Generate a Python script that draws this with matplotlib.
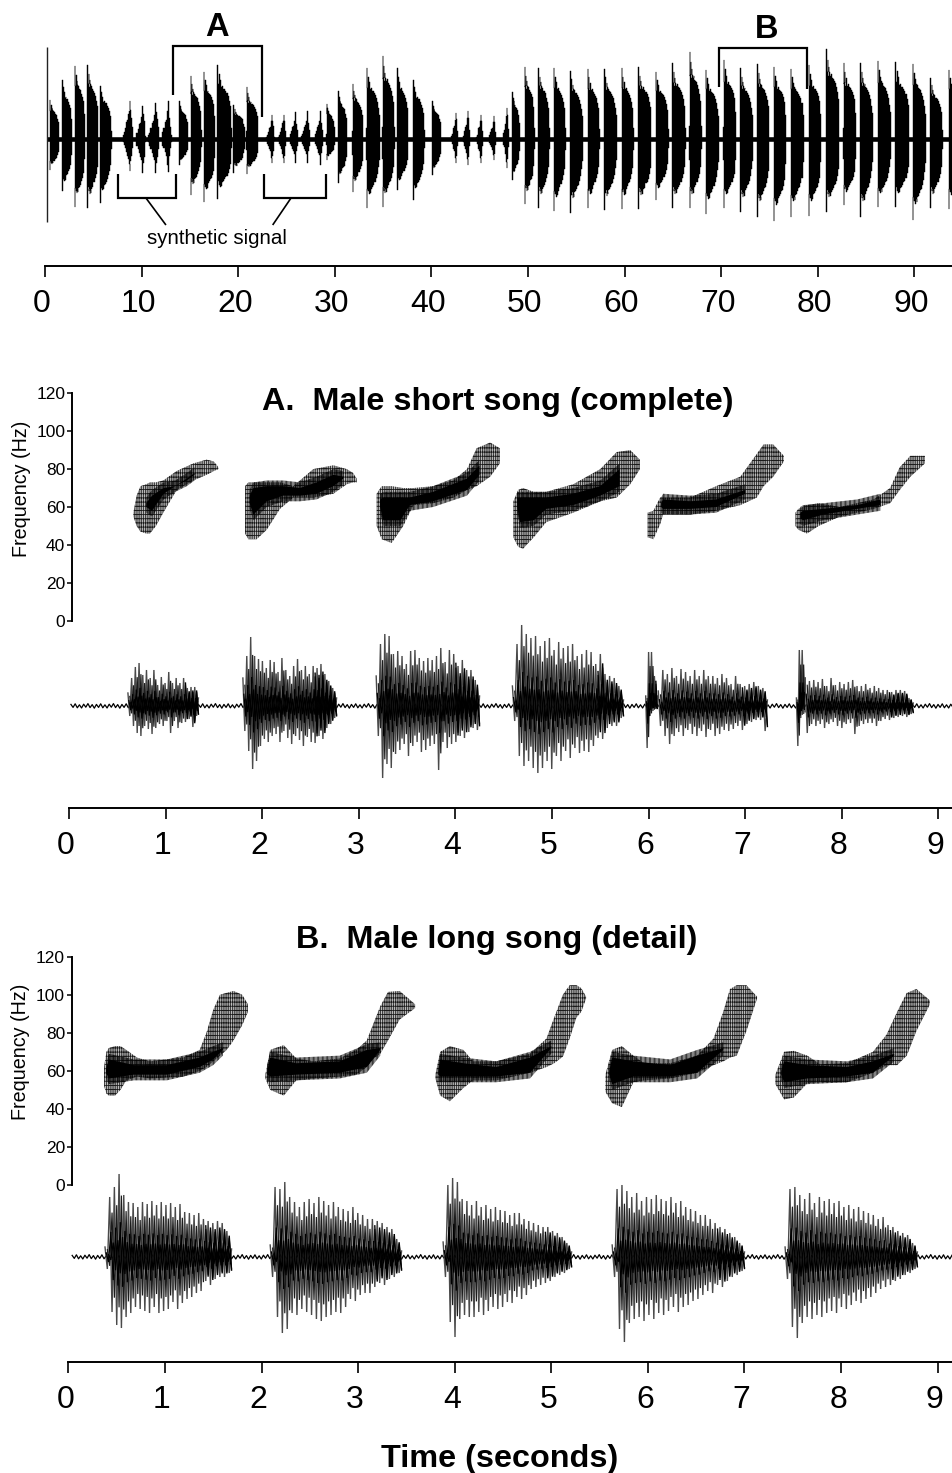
import numpy as np
import matplotlib
matplotlib.use("Agg")
import matplotlib.pyplot as plt
from matplotlib.transforms import ScaledTranslation

plt.rcParams['font.family'] = ['Liberation Sans', 'DejaVu Sans']
plt.rcParams['hatch.linewidth'] = 0.55

W, H = 953, 1473

# ---------- overview record: burst onset / end (s), positive and negative peak ----------
ov_on = [0.52,1.79,3.10,4.38,5.69, 8.10,9.41,10.69,12.07, 13.90,15.07,16.45,17.83,19.48,20.86,
         22.93,24.14,25.34,26.55,27.93, 29.14,30.34,31.83,33.28,34.93,36.45,38.10,40.07,
         42.07,43.28,44.66,45.97,47.41, 48.38,49.66,51.07,52.66,54.34,56.17,57.86,59.69,61.41,
         63.21,64.93,66.72,68.38,70.24,71.97,73.72,75.45,77.21,79.07,80.86,82.66,84.41,86.21,
         88.03,89.83,91.62,93.55]
ov_end = [1.48,2.76,4.14,5.52,6.90, 9.14,10.45,11.83,13.10, 14.83,16.21,17.59,19.31,20.69,22.07,
          23.79,25.00,26.21,27.48,28.79, 30.00,31.28,32.93,34.66,36.20,37.60,39.30,41.03,
          42.76,44.03,45.34,46.72,48.03, 49.14,50.69,52.24,53.90,55.69,57.41,59.21,60.93,62.76,
          64.55,66.31,67.97,69.76,71.55,73.28,75.00,76.72,78.59,80.34,82.24,83.97,85.69,87.59,
          89.48,91.21,92.93,94.90]
ov_up = [39,59,73,74,53, 38,33,36,38, 38,63,67,74,34,52, 24,24,27,28,28, 35,48,55,71,83,71,59,38,
         26,28,24,23,31, 47,72,71,71,68,70,70,71,72,67,76,87,69,79,71,75,72,70,74,90,76,76,78,77,75,61,69]
ov_low = [31,52,68,69,64, 32,34,34,33, 26,56,63,60,34,35, 24,24,24,24,26, 21,44,53,69,68,51,61,36,
          24,26,24,21,29, 41,65,69,72,74,69,71,70,70,61,69,69,75,69,73,78,82,78,77,73,66,78,68,68,81,69,70]
ov_kind = list("ddddd" "ssss" "dddddd" "sssss" "dddddddd" "sssss" "ddddddddddddddddddddddddddd")

# envelope outlines of one burst as read from the record (fraction of burst, fraction of peak)
decay_pos = [0,.02,.04,.06,.10,.14,.18,.22,.27,.32,.38,.45,.52,.60,.68,.76,.84,.92,.97,1]
decay_up  = [.15,1,1,.72,.74,.88,.70,.80,.74,.70,.72,.68,.67,.65,.62,.58,.52,.44,.34,.15]
decay_low = [.30,1,1,.72,.70,.76,.72,.80,.74,.78,.72,.70,.67,.63,.62,.57,.50,.41,.30,.15]
rise_pos = [0,.12,.26,.36,.46,.54,.60,.70,.74,.82,.90,1]
rise_up  = [.10,.18,.30,.44,.50,.66,.74,1,.76,.56,.32,.10]
rise_low = [.10,.20,.28,.40,.52,.62,.78,1,.70,.52,.28,.10]

ov_first_spike = [92, 83]   # onset click, up / down

# ---------- panel A oscillogram ----------
a_on  = [0.61,1.80,3.18,4.59,5.97,6.10,7.53,7.62]
a_end = [1.34,2.77,4.25,5.74,6.09,7.23,7.62,8.74]
a_up = [
 [13,28,39,43,31,36,28,36,21,29,23,34,23,28,23,28,18,19,19,8],
 [28,50,69,50,47,45,38,46,44,34,48,36,30,40,47,36,40,32,40,38,42,32,25,18,8],
 [30,62,72,70,52,55,50,42,55,56,48,45,48,46,50,58,44,56,52,40,46,36,36,26,10],
 [20,62,81,72,68,70,60,65,68,56,64,58,60,62,50,52,56,54,42,52,32,30,28,20,6],
 [10,54,54,30,10],
 [15,36,32,38,30,37,34,30,36,30,36,30,30,28,32,28,22,30,22,20,22,24,20,18,6],
 [8,56,56,28],
 [28,25,26,24,27,20,28,21,24,22,24,26,20,20,22,18,20,18,16,16,14,16,16,15,8,3]]
a_low = [
 [10,20,27,30,20,23,28,22,18,20,15,27,15,22,17,16,13,21,10,6],
 [25,45,63,55,40,33,36,30,28,36,25,32,38,30,34,40,31,36,37,30,33,22,18,12,6],
 [30,72,58,62,48,44,38,50,40,36,46,44,40,38,64,36,42,38,36,30,32,26,22,24,8],
 [15,50,60,55,62,67,62,55,63,50,55,45,52,42,47,45,46,40,32,33,22,20,20,12,5],
 [42,10,5,3,4],
 [20,30,38,30,26,30,24,28,30,25,31,24,30,28,24,25,23,20,24,18,16,14,14,25,6],
 [40,12,8,28],
 [27,18,20,18,22,18,16,20,22,18,17,28,20,18,17,17,20,15,13,14,12,11,10,11,8,3]]

# ---------- panel B oscillogram ----------
b_on  = [0.38,2.09,3.88,5.63,7.42]
b_end = [1.69,3.45,5.21,7.00,8.79]
b_up = [
 [10,60,70,83,62,55,54,50,55,53,56,52,55,52,54,50,53,45,44,42,44,38,36,34,36,34,26,8],
 [12,70,68,75,60,55,50,55,58,54,60,56,52,55,50,48,46,50,44,42,38,38,36,34,30,28,18,6],
 [15,72,79,75,58,56,52,56,50,52,48,50,47,46,42,44,44,38,36,34,32,30,30,26,24,20,14,5],
 [12,68,72,66,60,64,56,60,58,62,58,56,60,54,56,50,48,46,42,42,38,34,30,28,24,20,14,5],
 [10,68,70,62,58,64,54,60,56,58,54,56,50,52,48,50,46,44,42,38,40,32,30,26,24,22,14,5]]
b_low = [
 [12,55,68,71,60,56,50,52,54,56,50,56,54,52,45,52,46,42,40,36,34,24,28,22,20,20,16,5],
 [20,60,76,72,56,58,52,55,58,62,64,60,58,55,56,50,42,44,38,36,36,30,26,28,22,20,16,6],
 [20,65,80,62,58,60,60,55,58,54,50,52,50,45,46,40,42,38,32,30,28,26,24,20,18,16,12,5],
 [20,72,85,66,62,60,64,58,62,56,58,54,50,55,50,48,44,42,38,34,36,28,30,24,20,18,14,5],
 [22,70,81,66,60,62,58,60,56,54,56,50,52,48,44,46,42,40,36,32,30,28,24,22,18,16,12,5]]

baseline_ripple = [1.6,-1.4,2.2,-1.8,1.2,-2.0,1.8,-1.2,2.4,-1.6,1.4,-2.2]

# ---------- spectrogram contours: time (s), upper and lower frequency (Hz) ----------
sa_t = [
 [.666,.70,.74,.80,.838,.90,.976,1.115,1.287,1.425,1.50,1.546],
 [1.822,1.857,1.943,2.047,2.184,2.322,2.529,2.737,2.875,2.94,2.978],
 [3.185,3.237,3.34,3.46,3.565,3.77,3.98,4.12,4.22,4.36,4.46],
 [4.60,4.65,4.70,4.81,4.94,5.22,5.50,5.67,5.81,5.91],
 [5.99,6.05,6.12,6.15,6.43,6.70,6.95,7.12,7.19,7.29,7.40],
 [7.52,7.55,7.64,7.76,7.98,8.33,8.50,8.60,8.71,8.86]]
sa_hi = [
 [57,66,71,72,73,73,74,79,83,85,84,81],
 [71,73,73,73,73,71,80,82,80,78,75],
 [67,71,71,70,70,71,74,80,91,94,91],
 [63,69,70,68,68,72,80,89,90,85],
 [57,58,65,65,65,71,76,88,93,93,87],
 [57,59,61,62,60,64,70,81,87,87]]
sa_lo = [
 [55,50,47,46,46,50,57,69,74,77,79,80],
 [46,43,43,48,59,65,65,67,72,73,73],
 [50,43,41,50,61,62,65,69,71,76,83],
 [44,39,38,44,52,57,63,65,72,80],
 [44,43,51,56,56,58,61,65,71,76,84],
 [50,48,46,50,55,59,62,69,76,83]]
ca_t = [
 [.80,.86,.98,1.10,1.22,1.30],
 [1.87,1.909,2.047,2.218,2.39,2.563,2.737,2.84],
 [3.22,3.254,3.43,3.53,3.77,4.12,4.25],
 [4.64,4.67,4.81,4.94,5.22,5.50,5.70],
 [6.13,6.15,6.43,6.70,7.00],
 [7.57,7.60,7.81,8.16,8.40]]
ca_hi = [
 [62,66,70,71,75,78],
 [66,70,71,71,70,73,77,76],
 [64,65,65,65,68,75,82],
 [65,65,65,65,67,71,80],
 [62,64,63,64,69],
 [57,58,59,61,64]]
ca_lo = [
 [60,58,67,71,74,77],
 [62,56,63,66,66,67,71,75],
 [60,53,53,61,63,69,77],
 [60,52,53,59,61,66,71],
 [60,59,59,60,67],
 [54,53,56,59,61]]

sb_t = [
 [.37,.395,.42,.484,.54,.60,.71,.845,1.19,1.36,1.43,1.50,1.57,1.64,1.71,1.80,1.86],
 [2.04,2.09,2.23,2.36,2.54,2.81,2.98,3.09,3.16,3.23,3.31,3.43,3.59],
 [3.80,3.85,3.95,4.09,4.19,4.43,4.78,4.95,5.03,5.12,5.19,5.26,5.31,5.36],
 [5.56,5.63,5.73,5.85,5.96,6.23,6.51,6.68,6.78,6.85,6.92,7.02,7.13],
 [7.32,7.41,7.51,7.65,7.78,8.06,8.33,8.47,8.58,8.68,8.78,8.92]]
sb_hi = [
 [62,70,72,73,73,71,67,65,67,71,80,92,100,101,102,100,95],
 [58,71,73.5,66.5,65,66.5,71,76,85,94,101.5,102,95],
 [58,70,73,71,65,65,69,77,88,100,105,105,103.5,99],
 [58,71,73,68,64,64,68,77,91,103,105,105,99],
 [58,70,70.5,68,63.5,64,70,79,91,101,103,97]]
sb_lo = [
 [52,48,47,47,50,55,57,56,57,60,62,65,68,71,76,84,91],
 [56,50,47,55,56,57,58,62,66.5,69,76,87,93],
 [56,47,44,51,55,55,59,62,64,67.5,77,88,91,98],
 [49,43,41,54,55,56,59,63,65,67,68,81,98],
 [53,45,46,53.5,54,54,59,63,63,68,81,95]]
cb_t = [
 [.39,.42,.68,1.02,1.36,1.50,1.60],
 [2.06,2.09,2.36,2.81,3.09,3.23],
 [3.83,3.85,4.09,4.43,4.78,5.00],
 [5.60,5.63,5.85,6.23,6.51,6.78],
 [7.38,7.41,7.65,8.06,8.33,8.55]]
cb_hi = [
 [61,66,63,63,67,70,72],
 [60,67,64,65,71,72],
 [60,66,64,62,67,73],
 [60,67,65,63,68,72],
 [60,65,63,62,65,69]]
cb_lo = [
 [59,56,58,58,62,66,71],
 [58,57,58,59,62,71],
 [58,57,57,57,59,72],
 [58,53,57,57,59,71],
 [58,54,56,57,59,68]]

freq_ticks = [0,20,40,60,80,100,120]
top_ticks = [0,10,20,30,40,50,60,70,80,90]
song_ticks = list(range(10))


fig = plt.figure(figsize=(W/100, H/100), dpi=100)

def axpx(l, t, r, b):
    a = fig.add_axes([l/W, 1-b/H, (r-l)/W, (b-t)/H])
    a.patch.set_alpha(0)
    for s in ('top', 'right', 'left'):
        a.spines[s].set_visible(False)
    a.set_yticks([])
    return a

def time_axis(a, ticks, shift):
    a.spines['bottom'].set_linewidth(1.4)
    a.set_xticks(ticks)
    a.tick_params(axis='x', length=8, width=1.2, pad=8.8, labelsize=23)
    off = ScaledTranslation(shift/100, 0, fig.dpi_scale_trans)
    for lb in a.get_xticklabels():
        lb.set_transform(lb.get_transform() + off)

def freq_axis(a):
    a.spines['bottom'].set_visible(False)
    a.spines['left'].set_visible(True)
    a.spines['left'].set_linewidth(1.4)
    a.set_ylim(0, 120)
    a.set_xticks([])
    a.set_yticks(freq_ticks)
    a.tick_params(axis='y', length=3.5, width=1.1, pad=1.5, labelsize=12.5)

def zigzag(a, on, end, up, low, color, lw, scale=1.0, shift=0.0):
    up, low = np.asarray(up, float), np.asarray(low, float)
    t = np.linspace(on, end, len(up))
    dt = t[1] - t[0]
    x = np.empty(2*len(t)); y = np.empty(2*len(t))
    x[0::2] = t + shift*dt
    x[1::2] = t + (shift+0.5)*dt
    y[0::2] = up*scale
    y[1::2] = -low*scale
    keep = x <= end + 1e-6
    a.plot(x[keep], y[keep], color=color, lw=lw, solid_joinstyle='miter')

def song(a, ons, ends, ups, lows, t0):
    # baseline noise between and under the bursts
    t = np.arange(t0, a.get_xlim()[1], 0.022)
    a.plot(t, np.resize(baseline_ripple, len(t)), color='black', lw=0.9)
    for on, end, up, low in zip(ons, ends, ups, lows):
        zigzag(a, on, end, up, low, '#4a4a4a', 1.0)
        zigzag(a, on, end, up, low, '#1c1c1c', 0.85, 0.74, 0.5)
        zigzag(a, on, end, up, low, 'black', 0.9, 0.42, 0.25)
        zigzag(a, on, end, up, low, 'black', 0.9, 0.24, 0.75)
        # the tail of each burst is denser
        n = len(up)*3//4
        if len(up) - n >= 2:
            te = np.linspace(on, end, len(up))[n]
            zigzag(a, te, end, up[n:], low[n:], 'black', 1.0, 0.82, 0.5)

def blobs(a, ts, his, los, cts, chis, clos):
    for t, hi, lo in zip(ts, his, los):
        a.fill_between(t, lo, hi, facecolor='#bdbdbd', edgecolor='none', linewidth=0)
        a.fill_between(t, lo, hi, facecolor='none', edgecolor='#1a1a1a', hatch='|||||||||----', linewidth=0)
    for t, hi, lo in zip(cts, chis, clos):
        hi, lo = np.asarray(hi, float), np.asarray(lo, float)
        # stippled fringe round the solid core
        a.fill_between(t, lo-3, hi+3, facecolor='none', edgecolor='black', hatch='|||||||||||||', linewidth=0)
        a.fill_between(t, lo, hi, facecolor='black', edgecolor='none', linewidth=0)

# ---------- overview ----------
ax = axpx(45, 0, 953, 266)
ax.set_xlim(0, 94)
ax.set_ylim(-127, 139)
time_axis(ax, top_ticks, -3)
ax.plot([0.17, 94], [0, 0], color='black', lw=3.3, solid_capstyle='butt')
ax.vlines(0.17, -ov_first_spike[1], ov_first_spike[0], color='#222222', lw=1.0)
for on, end, up, low, k in zip(ov_on, ov_end, ov_up, ov_low, ov_kind):
    if k == 'd':
        p, u, l = decay_pos, decay_up, decay_low
    else:
        p, u, l = rise_pos, rise_up, rise_low
    x = on + np.asarray(p)*(end-on)
    ax.fill_between(x, -np.asarray(l)*low, np.asarray(u)*up, step='mid', color='black', linewidth=0.3)

def bracket(xs, ys, lw=1.6):
    ax.plot(xs, ys, color='black', lw=lw, solid_joinstyle='miter', solid_capstyle='butt')

bracket([13.25, 13.25, 22.46, 22.46], [44, 93, 93, 22])
bracket([69.77, 69.77, 78.88, 78.88], [52, 91, 91, 50])
bracket([7.52, 7.52, 13.56, 13.56], [-35, -59, -59, -35])
bracket([22.7, 22.7, 29.06, 29.06], [-35, -59, -59, -35])
bracket([10.45, 12.52], [-59, -86], 1.2)
bracket([25.47, 23.57], [-59, -86], 1.2)
ax.text(17.77, -99, 'synthetic signal', ha='center', va='center', fontsize=14.8)
ax.text(17.8, 112, 'A', ha='center', va='center', fontsize=23.5, fontweight='bold')
ax.text(74.7, 110, 'B', ha='center', va='center', fontsize=23.5, fontweight='bold')

# ---------- panel A ----------
sa = axpx(72.3, 393.3, 953, 620.7)
sa.set_xlim((72.3-69)/96.6, (953-69)/96.6)
freq_axis(sa)
blobs(sa, sa_t, sa_hi, sa_lo, ca_t, ca_hi, ca_lo)

wa = axpx(69, 622, 953, 808)
wa.set_xlim(0, (953-69)/96.6)
wa.set_ylim(-102, 84)
time_axis(wa, song_ticks, -3)
song(wa, a_on, a_end, a_up, a_low, 0.02)

# ---------- panel B ----------
sb = axpx(72, 956.7, 953, 1185)
sb.set_xlim((72-68.3)/96.6, (953-68.3)/96.6)
freq_axis(sb)
blobs(sb, sb_t, sb_hi, sb_lo, cb_t, cb_hi, cb_lo)

wb = axpx(68.3, 1172, 953, 1361.5)
wb.set_xlim(0, (953-68.3)/96.6)
wb.set_ylim(-104.5, 85)
time_axis(wb, song_ticks, -3)
song(wb, b_on, b_end, b_up, b_low, 0.04)

# ---------- free text ----------
def ftext(px, py, s, **kw):
    fig.text(px/W, 1-py/H, s, ha='center', va='center', **kw)

ftext(497.5, 402, 'A.  Male short song (complete)', fontsize=23.3, fontweight='bold')
ftext(497, 940, 'B.  Male long song (detail)', fontsize=23.3, fontweight='bold')
ftext(500, 1459, 'Time (seconds)', fontsize=23.3, fontweight='bold')
ftext(22, 489, 'Frequency (Hz)', fontsize=14.2, rotation=90)
ftext(21, 1052, 'Frequency (Hz)', fontsize=14.2, rotation=90)

fig.savefig('out.png', dpi=100)
